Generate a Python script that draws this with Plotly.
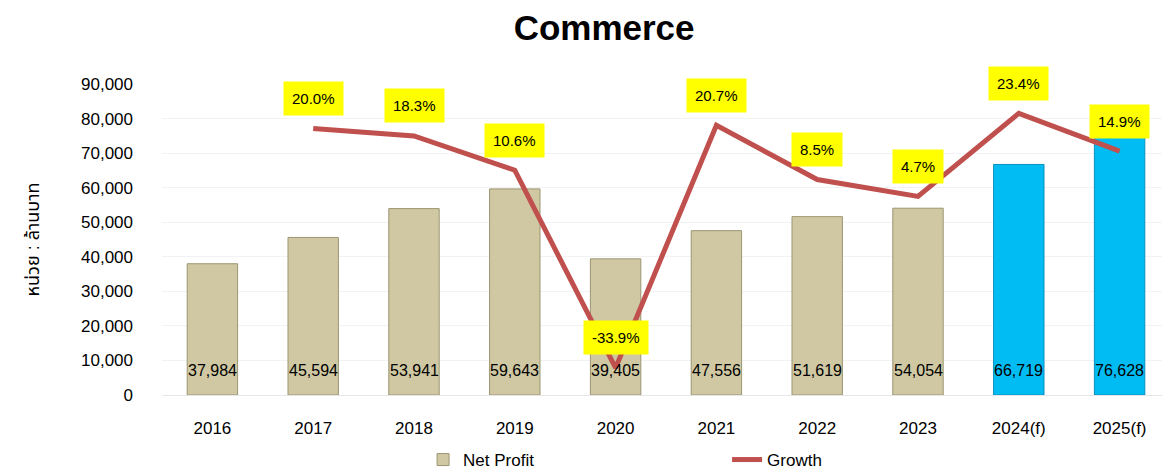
import plotly.graph_objects as go

years = ["2016", "2017", "2018", "2019", "2020", "2021", "2022", "2023", "2024(f)", "2025(f)"]
net_profit = [37984, 45594, 53941, 59643, 39405, 47556, 51619, 54054, 66719, 76628]
growth = [None, 20.0, 18.3, 10.6, -33.9, 20.7, 8.5, 4.7, 23.4, 14.9]
bar_colors = ["#CFC8A2"] * 8 + ["#00BCF2"] * 2
line_colors = ["#9C9572"] * 8 + ["#0890C0"] * 2

FONT = "Arial, Liberation Sans, Noto Sans Thai, sans-serif"

# the page body has an 8px margin, so the figure is sized to fill what is left
W, H = 1162, 464

fig = go.Figure()
fig.add_trace(go.Bar(
    name="Net Profit", x=years, y=net_profit, width=0.5,
    marker={"color": bar_colors, "line": {"color": line_colors, "width": 1}},
    hoverinfo="x+y",
))
fig.add_trace(go.Scatter(
    name="Growth", x=years, y=growth, yaxis="y2", mode="lines",
    line={"color": "#C0504D", "width": 5},
))

annotations = []
# category positions are given as indices so "2016" is not read as a number
for i, v in enumerate(net_profit):
    annotations.append(dict(
        x=i, y=0, text=f"{v:,}", showarrow=False, yshift=25,
        font={"size": 16, "color": "black"},
    ))
for i, g in enumerate(growth):
    if g is None:
        continue
    annotations.append(dict(
        x=i, y=g, yref="y2", text=f"{g:.1f}%", showarrow=False, yshift=30,
        bgcolor="#FFFF00", borderpad=8, font={"size": 15, "color": "black"},
    ))
annotations.append(dict(
    xref="paper", yref="paper", x=-0.128, y=0.5, xanchor="center",
    yanchor="middle", text="หน่วย : ล้านบาท",
    textangle=-90, showarrow=False, font={"size": 18, "color": "black"},
))

fig.update_layout(
    width=W, height=H,
    margin={"l": 154, "r": 0, "t": 76, "b": 77, "autoexpand": False},
    paper_bgcolor="white", plot_bgcolor="white",
    font={"family": FONT, "color": "black"},
    title={"text": "<b>Commerce</b>", "x": 0.513, "xanchor": "center",
           "y": 1 - 20 / H, "yanchor": "middle", "yref": "container",
           "font": {"size": 35, "color": "black"}},
    xaxis={"type": "category", "range": [-0.5, len(years) - 0.5],
           "showgrid": False, "showline": True,
           "linecolor": "#E6E6E6", "tickfont": {"size": 17},
           "ticks": "", "ticklabelstandoff": 18},
    yaxis={"range": [0, 90000], "dtick": 10000, "tickformat": ",",
           "showgrid": True, "gridcolor": "#F2F2F2", "zeroline": False,
           "tickfont": {"size": 17}, "ticklabelstandoff": 28},
    yaxis2={"overlaying": "y", "range": [-40, 30], "visible": False},
    showlegend=True,
    legend={"orientation": "h", "x": 0.259, "xanchor": "left", "y": -0.209,
            "yanchor": "middle", "font": {"size": 17}, "entrywidth": 259,
            "traceorder": "normal"},
    annotations=annotations,
    bargap=0.5,
)

fig.write_html("out.html")
